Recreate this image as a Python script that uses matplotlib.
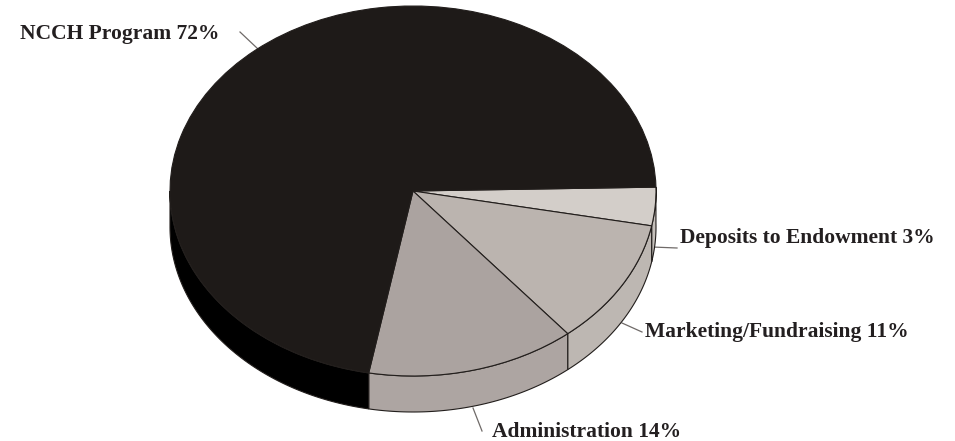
import numpy as np
import matplotlib
matplotlib.use("Agg")
import matplotlib.pyplot as plt

labels = ["Deposits to Endowment 3%", "Marketing/Fundraising 11%", "Administration 14%", "NCCH Program 72%"]
# drawn shares, a little off the printed percentages
values = [3.35, 11, 13.9, 71.75]

top_colors = ["#d3cec9", "#bbb4af", "#aba3a0", "#1e1a18"]
side_colors = ["#c4bfba", "#bdb7b2", "#ada5a2", "#000000"]

W, H = 955, 441
CX, CY, RX, RY = 413, 191, 243, 185
DEPTH = 36 / RY
START = 1.2

# label anchor (left, baseline) and leader line in pixels
label_pos = [(680, 243), (645, 337), (492, 437), (20, 39)]
leaders = [((652, 247), (677, 248)), ((622, 323), (642, 332)), ((473, 408), (482, 431)), ((240, 32), (258, 49))]

def px(x, y):
    return (x - CX) / RX, (CY - y) / RY

fig = plt.figure(figsize=(W / 100, H / 100), dpi=100)
ax = fig.add_axes([0, 0, 1, 1])

ax.pie(values, startangle=START, counterclock=False, colors=top_colors, radius=1,
       wedgeprops=dict(edgecolor="#221e1c", linewidth=0.8, zorder=3))
ax.set_aspect("auto")
ax.set_xlim(-CX / RX, (W - CX) / RX)
ax.set_ylim((CY - H) / RY, CY / RY)

# rim of the pie, only the part facing front shows
ends = START - np.cumsum(values) * 3.6
begins = np.r_[START, ends[:-1]]
for a0, a1, col in zip(begins, ends, side_colors):
    a1 = max(a1, -180)
    t = np.radians(np.linspace(a0, a1, 80))
    xs = np.r_[np.cos(t), np.cos(t[::-1])]
    ys = np.r_[np.sin(t), np.sin(t[::-1]) - DEPTH]
    ax.fill(xs, ys, facecolor=col, edgecolor="#221e1c", linewidth=0.8, zorder=2)

for (p0, p1) in leaders:
    x0, y0 = px(*p0)
    x1, y1 = px(*p1)
    ax.plot([x0, x1], [y0, y1], color="#6f6a68", lw=0.9, zorder=1)

for lab, pos in zip(labels, label_pos):
    x, y = px(*pos)
    ax.text(x, y, lab, family="Liberation Serif", fontweight="bold", fontsize=15.45,
            color="#231f20", ha="left", va="baseline")

fig.savefig("out.png", dpi=100)
